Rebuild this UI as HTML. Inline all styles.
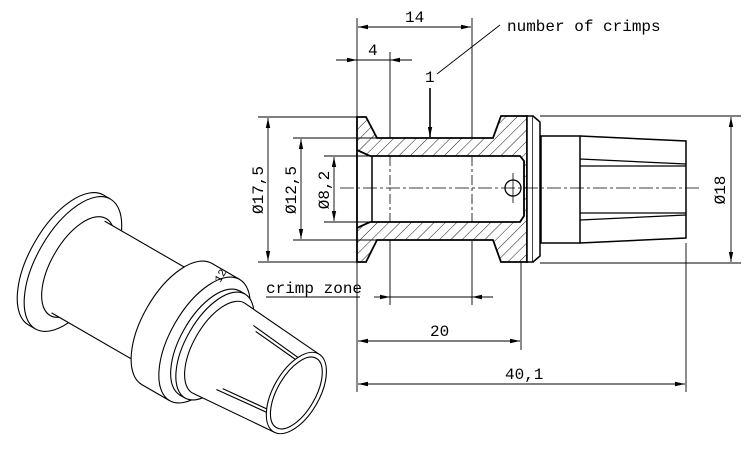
<!DOCTYPE html>
<html><head><meta charset="utf-8"><style>
html,body{margin:0;padding:0;background:#fff;}
svg{display:block;}
text{font-family:"Liberation Mono",monospace;fill:#000;}
</style></head><body>
<svg width="750" height="456" viewBox="0 0 750 456" xmlns="http://www.w3.org/2000/svg">
<defs>
<pattern id="h" patternUnits="userSpaceOnUse" width="8" height="8" patternTransform="rotate(45)">
<line x1="0" y1="0" x2="0" y2="8" stroke="#000" stroke-width="0.9"/>
</pattern>
<marker id="a" viewBox="0 0 10 6" refX="10" refY="3" markerWidth="10" markerHeight="6" orient="auto-start-reverse" markerUnits="userSpaceOnUse">
<path d="M0,0.8 L10,3 L0,5.2z" fill="#000"/>
</marker>
</defs>

<g stroke="#000" fill="none">
<path fill-rule="evenodd" fill="url(#h)" stroke-width="1.8" d="M357,117 L366,117 L377,138 L493,138 L501,116 L527,116 L527,262 L501,262 L493,240 L377,240 L366,262 L357,262 Z M357,150 L370,156 L520,156 L524,161 L524,216 L520,222 L370,222 L357,228 Z"/>
<rect x="527" y="116" width="6" height="146" fill="#fff" stroke-width="1.5"/>
<path d="M533,116 L540,122 L540,256 L533,262" fill="#fff" stroke-width="1.5"/>
<line x1="372" y1="156" x2="372" y2="222" stroke-width="1.5"/>
<circle cx="513" cy="188" r="8" fill="#fff" stroke-width="1.3"/>
<line x1="513" y1="173" x2="513" y2="203" stroke-width="0.8"/>
<rect x="541" y="136" width="39" height="107" stroke-width="1.5" fill="#fff"/>
<path d="M580,136 L686,141 L686,238 L580,243" stroke-width="1.5"/>
<path d="M580,159 L686,164 M580,166 L686,166" stroke-width="1.3"/>
<path d="M580,213 L686,213 M580,220 L686,215" stroke-width="1.3"/>
<line x1="340" y1="188" x2="700" y2="188" stroke-width="0.8" stroke-dasharray="14,3,3,3"/>
<line x1="390" y1="156" x2="390" y2="222" stroke-width="0.8" stroke-dasharray="10,3,3,3"/>
<line x1="472" y1="156" x2="472" y2="222" stroke-width="0.8" stroke-dasharray="10,3,3,3"/>
</g>

<g stroke="#000" stroke-width="0.9" fill="none">
<line x1="357" y1="18" x2="357" y2="117"/>
<line x1="357" y1="262" x2="357" y2="392"/>
<line x1="472" y1="18" x2="472" y2="138"/>
<line x1="472" y1="240" x2="472" y2="305"/>
<line x1="390" y1="52" x2="390" y2="138"/>
<line x1="390" y1="240" x2="390" y2="305"/>
<line x1="358" y1="27" x2="471" y2="27" marker-start="url(#a)" marker-end="url(#a)"/>
<line x1="336" y1="60" x2="357" y2="60" marker-end="url(#a)"/>
<line x1="412" y1="60" x2="390" y2="60" marker-end="url(#a)"/>
<line x1="357" y1="60" x2="390" y2="60"/>
<line x1="437" y1="74" x2="500" y2="25"/>
<line x1="430" y1="88" x2="430" y2="137" stroke-width="1.6" marker-end="url(#a)"/>
<line x1="258" y1="117" x2="357" y2="117"/>
<line x1="258" y1="262" x2="357" y2="262"/>
<line x1="268" y1="118" x2="268" y2="261" marker-start="url(#a)" marker-end="url(#a)"/>
<line x1="293" y1="138" x2="377" y2="138"/>
<line x1="293" y1="240" x2="377" y2="240"/>
<line x1="301" y1="139" x2="301" y2="239" marker-start="url(#a)" marker-end="url(#a)"/>
<line x1="324" y1="156" x2="372" y2="156"/>
<line x1="324" y1="222" x2="372" y2="222"/>
<line x1="334" y1="157" x2="334" y2="221" marker-start="url(#a)" marker-end="url(#a)"/>
<line x1="540" y1="116" x2="741" y2="116"/>
<line x1="540" y1="263" x2="741" y2="263"/>
<line x1="731" y1="117" x2="731" y2="262" marker-start="url(#a)" marker-end="url(#a)"/>
<line x1="266" y1="297" x2="360" y2="297"/>
<line x1="374" y1="297" x2="390" y2="297" marker-end="url(#a)"/>
<line x1="493" y1="297" x2="472" y2="297" marker-end="url(#a)"/>
<line x1="390" y1="297" x2="472" y2="297"/>
<line x1="521" y1="262" x2="521" y2="350"/>
<line x1="358" y1="341" x2="520" y2="341" marker-start="url(#a)" marker-end="url(#a)"/>
<line x1="686" y1="243" x2="686" y2="392"/>
<line x1="358" y1="384" x2="685" y2="384" marker-start="url(#a)" marker-end="url(#a)"/>
</g>

<g font-size="16">
<text x="405" y="22">14</text>
<text x="368" y="55">4</text>
<text x="425" y="82">1</text>
<text x="507" y="31">number of crimps</text>
<text x="266" y="293">crimp zone</text>
<text x="430" y="336">20</text>
<text x="505" y="379">40,1</text>
<text transform="translate(263,190) rotate(-90)" text-anchor="middle">Ø17,5</text>
<text transform="translate(296,190) rotate(-90)" text-anchor="middle">Ø12,5</text>
<text transform="translate(329,190) rotate(-90)" text-anchor="middle">Ø8,2</text>
<text transform="translate(725,190) rotate(-90)" text-anchor="middle">Ø18</text>
</g>

<g transform="translate(66,260) rotate(30)" stroke="#000" stroke-width="1.1" fill="#fff">
<ellipse cx="0" cy="0" rx="36" ry="75"/>
<rect x="0" y="-75" width="8" height="150" stroke="none"/>
<line x1="0" y1="-75" x2="8" y2="-75"/><line x1="0" y1="75" x2="8" y2="75"/>
<ellipse cx="8" cy="0" rx="36" ry="75"/>
<ellipse cx="14" cy="0" rx="27" ry="56" fill="none"/>
<rect x="14" y="-53" width="114" height="106" stroke="none"/>
<line x1="14" y1="-53" x2="128" y2="-53"/><line x1="14" y1="53" x2="128" y2="53"/>
<ellipse cx="128" cy="0" rx="34" ry="70"/>
<rect x="128" y="-70" width="32" height="140" stroke="none"/>
<line x1="128" y1="-70" x2="160" y2="-70"/><line x1="128" y1="70" x2="160" y2="70"/>
<ellipse cx="160" cy="0" rx="34" ry="70"/>
<ellipse cx="166" cy="0" rx="29" ry="60"/>
<rect x="166" y="-60" width="6" height="120" stroke="none"/>
<line x1="166" y1="-60" x2="172" y2="-60"/><line x1="166" y1="60" x2="172" y2="60"/>
<ellipse cx="172" cy="0" rx="29" ry="60"/>
<path d="M176,-52 L266,-45 L266,45 L176,52 Z" stroke="none"/>
<line x1="176" y1="-52" x2="266" y2="-45"/><line x1="176" y1="52" x2="266" y2="45"/>
<path d="M176,-52 A25,52 0 0 0 176,52" fill="none"/>
<line x1="200" y1="-33" x2="266" y2="-27"/><line x1="200" y1="33" x2="266" y2="27"/>
<line x1="195" y1="-37" x2="266" y2="-30"/><line x1="195" y1="37" x2="266" y2="30"/>
<ellipse cx="266" cy="0" rx="23" ry="45"/>
<ellipse cx="266" cy="0" rx="19" ry="40" fill="none"/>
<text x="138" y="-58" font-size="11" stroke="none" fill="#000" transform="rotate(-90 142 -61)">12</text>
</g>
</svg>
</body></html>
